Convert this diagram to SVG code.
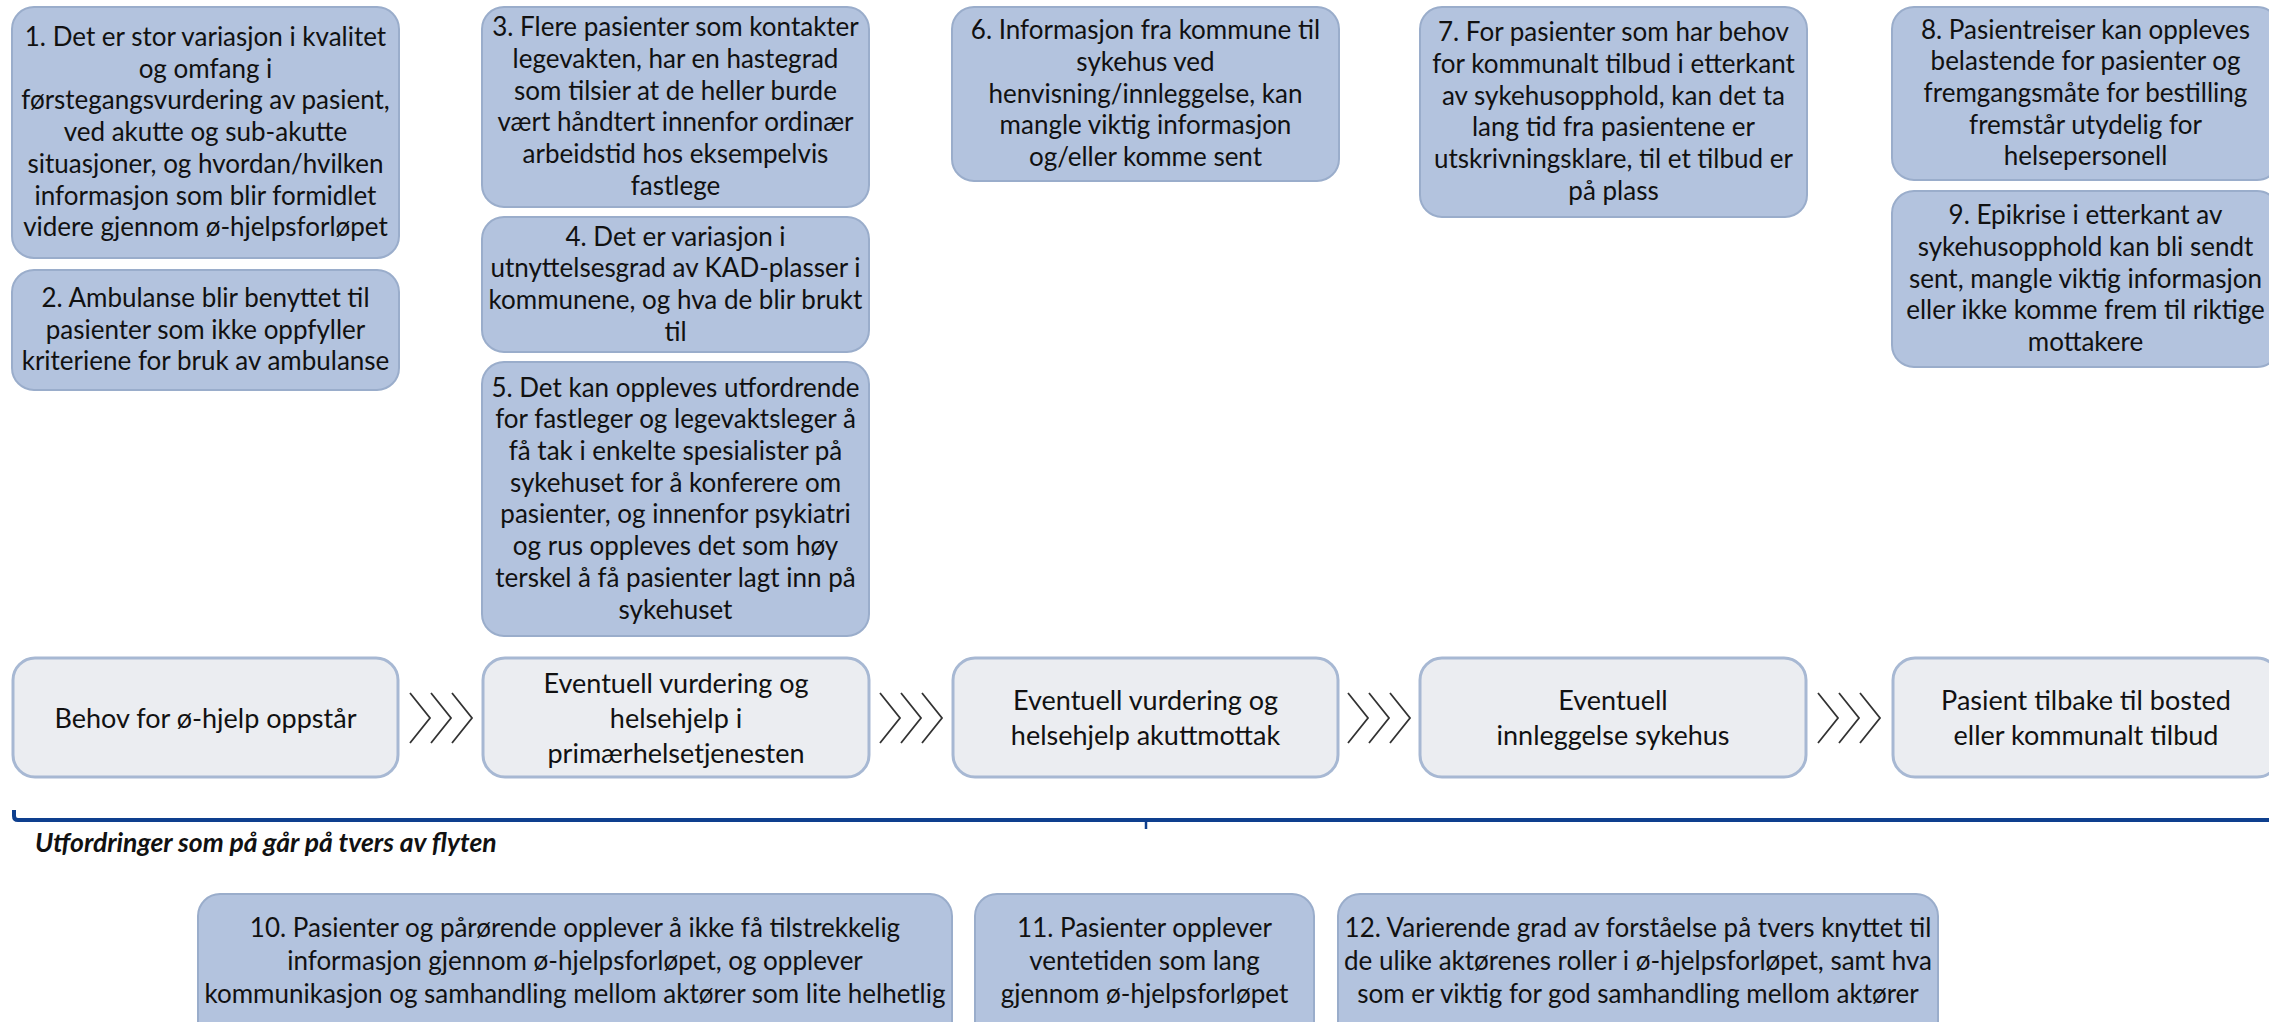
<svg xmlns="http://www.w3.org/2000/svg" width="2269" height="1022" viewBox="0 0 2269 1022">
<defs>
<style>
.ch{fill:#B3C3DE;stroke:#9AADCB;stroke-width:2}
.fl{fill:#EBEDF1;stroke:#A7B8D3;stroke-width:3}
text{font-family:Lato,"Liberation Sans",sans-serif;fill:#111;text-anchor:middle}
.t{font-size:26px}
.tf{font-size:27px}
.note{font-size:26.5px;font-weight:bold;font-style:italic;text-anchor:start}
.chev{fill:none;stroke:#333;stroke-width:1.8}
.brace{fill:none;stroke:#0E3F8E;stroke-width:4}
</style>
</defs>
<rect width="2269" height="1022" fill="#fff"/>

<g id="c1"><rect class="ch" x="12" y="7" width="387" height="251" rx="22"/>
<text class="t"><tspan x="205.5" y="46">1. Det er stor variasjon i kvalitet</tspan><tspan x="205.5" y="77.7">og omfang i</tspan><tspan x="205.5" y="109.4">førstegangsvurdering av pasient,</tspan><tspan x="205.5" y="141.1">ved akutte og sub-akutte</tspan><tspan x="205.5" y="172.8">situasjoner, og hvordan/hvilken</tspan><tspan x="205.5" y="204.5">informasjon som blir formidlet</tspan><tspan x="205.5" y="236.2">videre gjennom ø-hjelpsforløpet</tspan></text></g>

<g id="c2"><rect class="ch" x="12" y="270" width="387" height="120" rx="22"/>
<text class="t"><tspan x="205.5" y="306.8">2. Ambulanse blir benyttet til</tspan><tspan x="205.5" y="338.5">pasienter som ikke oppfyller</tspan><tspan x="205.5" y="370.2">kriteriene for bruk av ambulanse</tspan></text></g>

<g id="c3"><rect class="ch" x="482" y="7" width="387" height="200" rx="22"/>
<text class="t"><tspan x="675.5" y="36.3">3. Flere pasienter som kontakter</tspan><tspan x="675.5" y="68">legevakten, har en hastegrad</tspan><tspan x="675.5" y="99.7">som tilsier at de heller burde</tspan><tspan x="675.5" y="131.4">vært håndtert innenfor ordinær</tspan><tspan x="675.5" y="163.1">arbeidstid hos eksempelvis</tspan><tspan x="675.5" y="194.8">fastlege</tspan></text></g>

<g id="c4"><rect class="ch" x="482" y="217" width="387" height="135" rx="22"/>
<text class="t"><tspan x="675.5" y="245.5">4. Det er variasjon i</tspan><tspan x="675.5" y="277.2">utnyttelsesgrad av KAD-plasser i</tspan><tspan x="675.5" y="308.9">kommunene, og hva de blir brukt</tspan><tspan x="675.5" y="340.6">til</tspan></text></g>

<g id="c5"><rect class="ch" x="482" y="362" width="387" height="274" rx="22"/>
<text class="t"><tspan x="675.5" y="396.6">5. Det kan oppleves utfordrende</tspan><tspan x="675.5" y="428.3">for fastleger og legevaktsleger å</tspan><tspan x="675.5" y="460">få tak i enkelte spesialister på</tspan><tspan x="675.5" y="491.7">sykehuset for å konferere om</tspan><tspan x="675.5" y="523.4">pasienter, og innenfor psykiatri</tspan><tspan x="675.5" y="555.1">og rus oppleves det som høy</tspan><tspan x="675.5" y="586.8">terskel å få pasienter lagt inn på</tspan><tspan x="675.5" y="618.5">sykehuset</tspan></text></g>

<g id="c6"><rect class="ch" x="952" y="7" width="387" height="174" rx="22"/>
<text class="t"><tspan x="1145.5" y="39.1">6. Informasjon fra kommune til</tspan><tspan x="1145.5" y="70.8">sykehus ved</tspan><tspan x="1145.5" y="102.5">henvisning/innleggelse, kan</tspan><tspan x="1145.5" y="134.2">mangle viktig informasjon</tspan><tspan x="1145.5" y="165.9">og/eller komme sent</tspan></text></g>

<g id="c7"><rect class="ch" x="1420" y="7" width="387" height="210" rx="22"/>
<text class="t"><tspan x="1613.5" y="41.3">7. For pasienter som har behov</tspan><tspan x="1613.5" y="73">for kommunalt tilbud i etterkant</tspan><tspan x="1613.5" y="104.7">av sykehusopphold, kan det ta</tspan><tspan x="1613.5" y="136.4">lang tid fra pasientene er</tspan><tspan x="1613.5" y="168.1">utskrivningsklare, til et tilbud er</tspan><tspan x="1613.5" y="199.8">på plass</tspan></text></g>

<g id="c8"><rect class="ch" x="1892" y="7" width="387" height="173" rx="22"/>
<text class="t"><tspan x="2085.5" y="38.6">8. Pasientreiser kan oppleves</tspan><tspan x="2085.5" y="70.3">belastende for pasienter og</tspan><tspan x="2085.5" y="102">fremgangsmåte for bestilling</tspan><tspan x="2085.5" y="133.7">fremstår utydelig for</tspan><tspan x="2085.5" y="165.4">helsepersonell</tspan></text></g>

<g id="c9"><rect class="ch" x="1892" y="191" width="387" height="176" rx="22"/>
<text class="t"><tspan x="2085.5" y="224.1">9. Epikrise i etterkant av</tspan><tspan x="2085.5" y="255.8">sykehusopphold kan bli sendt</tspan><tspan x="2085.5" y="287.5">sent, mangle viktig informasjon</tspan><tspan x="2085.5" y="319.2">eller ikke komme frem til riktige</tspan><tspan x="2085.5" y="350.9">mottakere</tspan></text></g>

<g id="f1"><rect class="fl" x="13" y="658" width="385" height="119" rx="22"/>
<text class="tf"><tspan x="205.5" y="727.5">Behov for ø-hjelp oppstår</tspan></text></g>

<g id="f2"><rect class="fl" x="483" y="658" width="386" height="119" rx="22"/>
<text class="tf"><tspan x="676" y="692.5">Eventuell vurdering og</tspan><tspan x="676" y="727.5">helsehjelp i</tspan><tspan x="676" y="762.5">primærhelsetjenesten</tspan></text></g>

<g id="f3"><rect class="fl" x="953" y="658" width="385" height="119" rx="22"/>
<text class="tf"><tspan x="1145.5" y="710">Eventuell vurdering og</tspan><tspan x="1145.5" y="745">helsehjelp akuttmottak</tspan></text></g>

<g id="f4"><rect class="fl" x="1420" y="658" width="386" height="119" rx="22"/>
<text class="tf"><tspan x="1613" y="710">Eventuell</tspan><tspan x="1613" y="745">innleggelse sykehus</tspan></text></g>

<g id="f5"><rect class="fl" x="1893" y="658" width="386" height="119" rx="22"/>
<text class="tf"><tspan x="2086" y="710">Pasient tilbake til bosted</tspan><tspan x="2086" y="745">eller kommunalt tilbud</tspan></text></g>

<g id="connectors">
<path class="chev" d="M410,693 L430,718 L410,743 M431,693 L451,718 L431,743 M452,693 L472,718 L452,743"/>
<path class="chev" d="M880,693 L900,718 L880,743 M901,693 L921,718 L901,743 M922,693 L942,718 L922,743"/>
<path class="chev" d="M1348,693 L1368,718 L1348,743 M1369,693 L1389,718 L1369,743 M1390,693 L1410,718 L1390,743"/>
<path class="chev" d="M1818,693 L1838,718 L1818,743 M1839,693 L1859,718 L1839,743 M1860,693 L1880,718 L1860,743"/>
</g>

<g id="brace">
<path class="brace" d="M14,810 L14,816 Q14,820 18,820 L2290,820"/>
<path d="M1146,820 L1146,829" stroke="#0E3F8E" stroke-width="2.5" fill="none"/>
</g>
<text class="note" x="35" y="852">Utfordringer som på går på tvers av flyten</text>

<g id="c10"><rect class="ch" x="198" y="894" width="754" height="150" rx="22"/>
<text class="t"><tspan x="575" y="937">10. Pasienter og pårørende opplever å ikke få tilstrekkelig</tspan><tspan x="575" y="970">informasjon gjennom ø-hjelpsforløpet, og opplever</tspan><tspan x="575" y="1003">kommunikasjon og samhandling mellom aktører som lite helhetlig</tspan></text></g>

<g id="c11"><rect class="ch" x="975" y="894" width="339" height="150" rx="22"/>
<text class="t"><tspan x="1144.5" y="937">11. Pasienter opplever</tspan><tspan x="1144.5" y="970">ventetiden som lang</tspan><tspan x="1144.5" y="1003">gjennom ø-hjelpsforløpet</tspan></text></g>

<g id="c12"><rect class="ch" x="1338" y="894" width="600" height="150" rx="22"/>
<text class="t"><tspan x="1638" y="937">12. Varierende grad av forståelse på tvers knyttet til</tspan><tspan x="1638" y="970">de ulike aktørenes roller i ø-hjelpsforløpet, samt hva</tspan><tspan x="1638" y="1003">som er viktig for god samhandling mellom aktører</tspan></text></g>
</svg>
